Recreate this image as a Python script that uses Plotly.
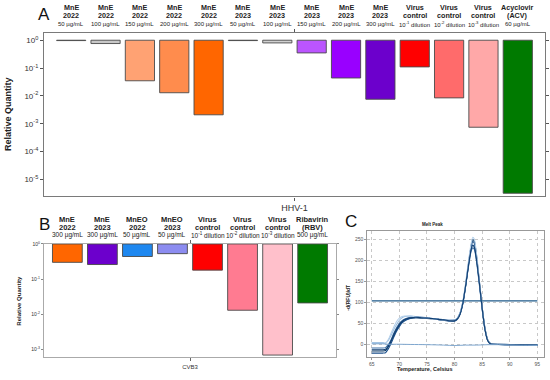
import plotly.graph_objects as go

# ---------------- Panel A data (HHV-1) ----------------
a_line1 = ["MnE", "MnE", "MnE", "MnE", "MnE", "MnE", "MnE", "MnE", "MnE", "MnE",
           "Virus", "Virus", "Virus", "Acyclovir"]
a_line2 = ["2022", "2022", "2022", "2022", "2022", "2023", "2023", "2023", "2023", "2023",
           "control", "control", "control", "(ACV)"]
a_line3 = ["50 µg/mL", "100 µg/mL", "150 µg/mL", "200 µg/mL", "300 µg/mL",
           "50 µg/mL", "100 µg/mL", "150 µg/mL", "200 µg/mL", "300 µg/mL",
           "10<sup>-1</sup> dilution", "10<sup>-2</sup> dilution", "10<sup>-3</sup> dilution", "60 µg/mL"]
a_values = [0.97, 0.76, 0.035, 0.013, 0.0021, 0.97, 0.80, 0.35, 0.044, 0.0076,
            0.11, 0.0085, 0.00075, 0.0000032]
a_colors = ["#d0d0d0", "#c8c8c8", "#FFA273", "#FF8C4D", "#FF6600", "#9a9a9a", "#d0d0d0",
            "#BB55FF", "#9900FF", "#6C00CC", "#FF0000", "#FF6B6B", "#FFA8A8", "#007A00"]
a_category = "HHV-1"

# ---------------- Panel B data (CVB3) ----------------
b_line1 = ["MnE", "MnE", "MnEO", "MnEO", "Virus", "Virus", "Virus", "Ribavirin"]
b_line2 = ["2022", "2023", "2022", "2023", "control", "control", "control", "(RBV)"]
b_line3 = ["300 µg/mL", "300 µg/mL", "50 µg/mL", "50 µg/mL",
           "10<sup>-1</sup> dilution", "10<sup>-2</sup> dilution", "10<sup>-3</sup> dilution", "500 µg/mL"]
b_values = [0.30, 0.26, 0.44, 0.53, 0.18, 0.013, 0.00069, 0.021]
b_colors = ["#FF6600", "#6C00CC", "#1E88F0", "#8C8CF0", "#FF0000", "#FF7B91", "#FFC0CB", "#007A00"]
b_category = "CVB3"

# ---------------- Panel C data (melt peak) ----------------
temps = [65, 66, 67, 67.5, 68, 68.5, 69, 69.5, 70, 70.5, 71, 72, 73, 74, 75, 76, 77, 78, 79, 80,
         80.5, 81, 81.5, 82, 82.5, 83, 83.3, 83.6, 84, 84.5, 85, 85.5, 86, 86.5, 87, 88, 90, 92, 95]
melt_curves = [
    [-15, -15, -15, -14, -5, 8, 22, 35, 46, 54, 59, 63, 64, 63, 62, 61, 60, 58, 57, 58,
     62, 75, 100, 140, 190, 235, 250, 245, 210, 150, 90, 40, 12, 3, 1, 1, 0.5, 0, -1],
    [5, 5, 5, 4, 10, 22, 36, 48, 58, 64, 67, 68, 67, 65, 63, 62, 60, 59, 58, 59,
     63, 76, 102, 143, 190, 228, 238, 232, 200, 145, 85, 38, 10, 2, 1, 0.5, 0, 0, -1],
    [-20, -20, -20, -19, -10, 3, 18, 32, 43, 52, 57, 62, 64, 64, 63, 62, 60, 58, 56, 56,
     60, 72, 97, 138, 188, 232, 245, 240, 206, 148, 88, 38, 11, 2, 1, 1, 0, 0, -1],
    [-8, -8, -8, -7, 0, 12, 27, 40, 50, 57, 61, 65, 66, 65, 64, 62, 61, 59, 58, 58,
     62, 74, 98, 138, 183, 222, 230, 226, 196, 142, 84, 36, 10, 2, 1, 0.5, 0, -0.5, -1],
    [3, 3, 3, 3, 12, 27, 42, 55, 63, 67, 68, 68, 66, 64, 63, 61, 60, 58, 57, 58,
     62, 76, 103, 146, 196, 240, 255, 250, 214, 152, 90, 40, 12, 3, 1, 1, 0.5, 0, -1],
    [-12, -12, -12, -11, -3, 9, 24, 37, 48, 55, 60, 64, 65, 64, 63, 62, 60, 59, 57, 57,
     61, 73, 99, 140, 186, 226, 236, 231, 200, 146, 87, 37, 10, 2, 1, 0.5, 0, 0, -1],
]
melt_colors = ["#0D3B66", "#9DBFE0", "#1B4F8A", "#3A6EA5", "#B5D0EA", "#123F72"]
ntc_temps = [65, 66, 67, 68, 70, 72, 75, 78, 80, 82, 84, 86, 88, 90, 92, 95]
ntc_values = [2, 2, 2, 1, 1, 0.5, 0, -1, -2, -1, -1, 0, 0, -0.5, -1, -2]
threshold_temps = [65, 95]
threshold_value = 104

FONT = "Arial, Liberation Sans, sans-serif"
BARGAP = 0.04
fig = go.Figure()

def add_bars(values, colors, category, xaxis, yaxis):
    for v, c in zip(values, colors):
        fig.add_trace(go.Bar(x=[category], y=[1 - v], base=[v], marker_color=c,
                             marker_line_color="#4a4a4a", marker_line_width=0.9,
                             xaxis=xaxis, yaxis=yaxis, showlegend=False))

add_bars(a_values, a_colors, a_category, "x", "y")
add_bars(b_values, b_colors, b_category, "x2", "y2")

for vals, col in zip(melt_curves, melt_colors):
    fig.add_trace(go.Scatter(x=temps, y=vals, mode="lines", line=dict(color=col, width=1.1, shape="spline", smoothing=0.6),
                             xaxis="x3", yaxis="y3", showlegend=False))
fig.add_trace(go.Scatter(x=ntc_temps, y=ntc_values, mode="lines", line=dict(color="#7FA7CF", width=1, shape="spline"),
                         xaxis="x3", yaxis="y3", showlegend=False))
fig.add_trace(go.Scatter(x=threshold_temps, y=[threshold_value] * len(threshold_temps), mode="lines",
                         line=dict(color="#1F5A8A", width=1.3), xaxis="x3", yaxis="y3", showlegend=False))

annotations = []

def headers(l1, l2, l3, xref, ys, fs1, fs3):
    n = len(l1)
    slot = (1 - BARGAP) / n
    for i in range(n):
        xc = -0.5 + BARGAP / 2 + slot * (i + 0.5)
        for txt, y, fs, bold in ((l1[i], ys[0], fs1, True), (l2[i], ys[1], fs1, True), (l3[i], ys[2], fs3, False)):
            annotations.append(dict(x=xc, y=y, xref=xref, yref="paper", text=f"<b>{txt}</b>" if bold else txt,
                                    showarrow=False, xanchor="center", yanchor="middle",
                                    font=dict(family=FONT, size=fs, color="#222")))

headers(a_line1, a_line2, a_line3, "x", [1 - 4.2 / 380, 1 - 12.9 / 380, 1 - 21.3 / 380], 7.2, 6)
headers(b_line1, b_line2, b_line3, "x2", [1 - 218.5 / 380, 1 - 226.5 / 380, 1 - 234.3 / 380], 7.5, 6.5)

def panel_letter(t, x, y):
    annotations.append(dict(x=x / 550, y=1 - y / 380, xref="paper", yref="paper", text=t, showarrow=False,
                            xanchor="center", yanchor="middle", font=dict(family=FONT, size=17, color="#111")))

panel_letter("A", 44, 12)
panel_letter("B", 44, 223)
panel_letter("C", 351, 220)

def vtext(t, x, y, fs):
    annotations.append(dict(x=x / 550, y=1 - y / 380, xref="paper", yref="paper", text=f"<b>{t}</b>", showarrow=False,
                            textangle=-90, xanchor="center", yanchor="middle", font=dict(family=FONT, size=fs, color="#222")))

vtext("Relative Quantity", 8, 112, 9)
vtext("Relative Quantity", 19, 300, 6)
vtext("-d(RFU)/dT", 348, 297, 5)
annotations.append(dict(x=445 / 550, y=1 - 223 / 380, xref="paper", yref="paper", text="<b>Melt Peak</b>",
                        showarrow=False, font=dict(family=FONT, size=4.5, color="#222")))
annotations.append(dict(x=455 / 550, y=1 - 374 / 380, xref="paper", yref="paper", text="<b>Temperature, Celsius</b>",
                        showarrow=False, font=dict(family=FONT, size=5.5, color="#222")))

a_tickvals = [1, 0.1, 0.01, 0.001, 0.0001, 0.00001]
a_ticktext = ["10<sup>0</sup>", "10<sup>-1</sup>", "10<sup>-2</sup>", "10<sup>-3</sup>", "10<sup>-4</sup>", "10<sup>-5</sup>"]
b_tickvals = [1, 0.1, 0.01, 0.001]
b_ticktext = a_ticktext[:4]

fig.update_layout(
    width=550, height=380, margin=dict(l=0, r=0, t=0, b=0), autosize=False,
    paper_bgcolor="white", plot_bgcolor="white",
    barmode="group", bargap=BARGAP, bargroupgap=0.15,
    font=dict(family=FONT, color="#333"),
    annotations=annotations,
    xaxis=dict(domain=[44 / 550, 545 / 550], anchor="y", showline=True, linecolor="#7a7a7a", linewidth=1.2,
               mirror="ticks", ticks="outside", ticklen=3, tickcolor="#555", tickfont=dict(size=9, color="#333"),
               showgrid=False, range=[-0.5, 0.5]),
    yaxis=dict(domain=[1 - 195 / 380, 1 - 30.5 / 380], anchor="x", type="log", range=[-5.61, 0.25],
               showline=True, linecolor="#7a7a7a", linewidth=1.2, mirror="ticks", ticks="outside", ticklen=3,
               tickcolor="#555", tickvals=a_tickvals, ticktext=a_ticktext, tickfont=dict(size=8, color="#333"),
               showgrid=False, zeroline=False),
    xaxis2=dict(domain=[44 / 550, 336 / 550], anchor="y2", showline=True, linecolor="#aaaaaa", linewidth=1,
                mirror="ticks", ticks="outside", ticklen=3, tickcolor="#666", tickfont=dict(size=6, color="#333"),
                showgrid=False, range=[-0.5, 0.5]),
    yaxis2=dict(domain=[1 - 357.3 / 380, 1 - 242.7 / 380], anchor="x2", type="log", range=[-3.23, 0.005],
                showline=True, linecolor="#aaaaaa", linewidth=1, mirror="ticks", ticks="outside", ticklen=2,
                tickcolor="#888", tickvals=b_tickvals, ticktext=b_ticktext, tickfont=dict(size=5, color="#333"),
                showgrid=False, zeroline=False),
    xaxis3=dict(domain=[367.3 / 550, 544 / 550], anchor="y3", range=[64.2, 96.2], dtick=5, tick0=65,
                showline=True, linecolor="#999", linewidth=1, mirror=True, ticks="outside", ticklen=2,
                tickcolor="#999", tickfont=dict(size=5, color="#555"), showgrid=True, gridcolor="#c8c8c8",
                griddash="dot", gridwidth=1, zeroline=False),
    yaxis3=dict(domain=[1 - 356.7 / 380, 1 - 230 / 380], anchor="x3", range=[-29, 269.6], dtick=50, tick0=0,
                showline=True, linecolor="#999", linewidth=1, mirror=True, ticks="outside", ticklen=2,
                tickcolor="#999", tickfont=dict(size=5, color="#555"), showgrid=True, gridcolor="#c8c8c8",
                griddash="dot", gridwidth=1, zeroline=False),
)

fig.write_html("out.html", config={"displayModeBar": False},
               post_script="document.body.style.margin='0';document.body.style.padding='0';")
